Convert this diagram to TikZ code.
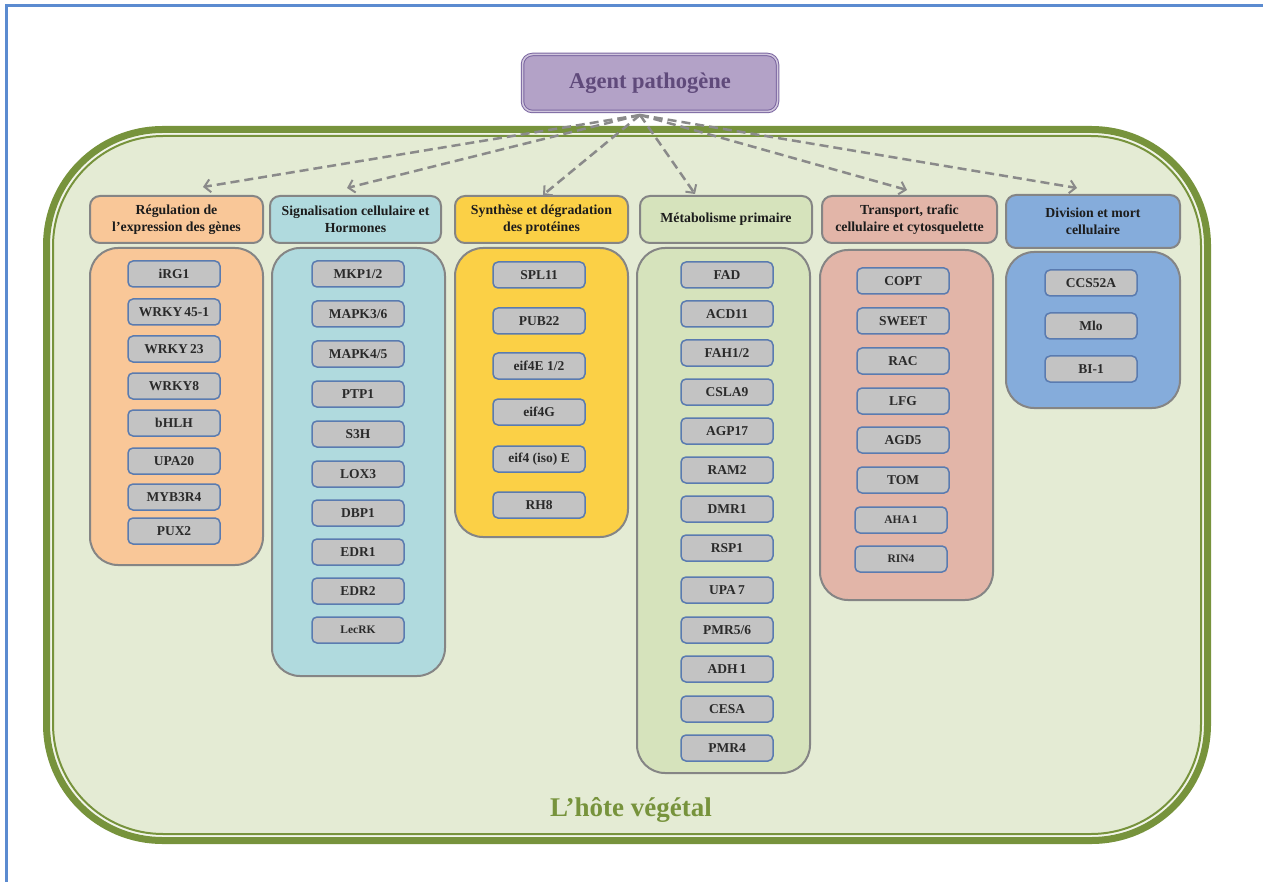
\documentclass[tikz,border=0pt]{standalone}
\usepackage{fontspec}
\setmainfont{Liberation Serif}
\usetikzlibrary{arrows.meta,calc}
\definecolor{frameblue}{HTML}{5B8BD0}
\definecolor{hostgreen}{HTML}{77933C}
\definecolor{hostfill}{HTML}{E4EBD4}
\definecolor{hostgap}{HTML}{F2F5EA}
\definecolor{agentfill}{HTML}{B3A2C7}
\definecolor{agentdraw}{HTML}{7A65A0}
\definecolor{agenttext}{HTML}{604A7B}
\definecolor{boxborder}{HTML}{858585}
\definecolor{hdrtext}{HTML}{1C1C1C}
\definecolor{cpeach}{HTML}{F9C798}
\definecolor{cteal}{HTML}{B0DADE}
\definecolor{cyellow}{HTML}{FBD046}
\definecolor{cgreen}{HTML}{D6E3BC}
\definecolor{cpink}{HTML}{E2B5A8}
\definecolor{cblue}{HTML}{85ACDB}
\definecolor{itemfill}{HTML}{C3C3C3}
\definecolor{itemborder}{HTML}{5A7BB0}
\definecolor{itemtext}{HTML}{2A2A2A}
\definecolor{arrowgrey}{HTML}{8A8A8A}
\tikzset{
  item/.style={draw=itemborder, fill=itemfill, line width=1.5pt, rounded corners=5pt,
    minimum width=92pt, minimum height=26pt, inner sep=0pt,
    font=\fontsize{13.5}{16}\selectfont\bfseries, text=itemtext},
  itemsm/.style={item, font=\fontsize{11.5}{14}\selectfont\bfseries},
  hdr/.style={draw=boxborder, line width=2pt, rounded corners=10pt, inner sep=0pt,
    align=center, font=\fontsize{13.8}{17}\selectfont\bfseries, text=hdrtext},
  bodybox/.style={draw=boxborder, line width=2pt, rounded corners=28pt, inner sep=0pt},
  arr/.style={draw=arrowgrey, line width=2.5pt, dash pattern=on 9pt off 5pt,
    -{Straight Barb[length=6pt,width=13pt,line width=2pt]}}
}
\begin{document}
\begin{tikzpicture}[x=1pt,y=-1pt]
\useasboundingbox (0,0) rectangle (1263,882);
% page frame
\draw[frameblue, line width=3pt] (6,882) -- (6,6) -- (1263,6);
% host
\draw[draw=hostgreen, fill=hostgap, line width=7pt, rounded corners=116pt] (46.5,129.5) rectangle (1207.5,840.5);
\draw[draw=hostgreen, fill=hostfill, line width=2pt, rounded corners=110pt] (53,136) rectangle (1201,834);
\node[font=\fontsize{27}{30}\selectfont\bfseries, text=hostgreen] (host) at (631,810) {L’hôte végétal};
% agent
\node[draw=agentdraw, double=agentfill!60!white, double distance=1.5pt, line width=1pt, fill=agentfill,
  rounded corners=10pt, minimum width=255pt, minimum height=57pt, inner sep=0pt,
  font=\fontsize{22.5}{26}\selectfont\bfseries, text=agenttext] (agent) at (650,83) {Agent pathogène};
% bodies
\node[bodybox, fill=cpeach, minimum width=173pt, minimum height=317pt] (b1) at (176.5,406.5) {};
\node[bodybox, fill=cteal, minimum width=173pt, minimum height=428pt] (b2) at (358.5,462) {};
\node[bodybox, fill=cyellow, minimum width=173pt, minimum height=289pt] (b3) at (541.5,392.5) {};
\node[bodybox, fill=cgreen, minimum width=173pt, minimum height=525pt] (b4) at (723.5,510.5) {};
\node[bodybox, fill=cpink, minimum width=173pt, minimum height=350pt] (b5) at (906.5,425) {};
\node[bodybox, fill=cblue, minimum width=174pt, minimum height=156pt] (b6) at (1093,330) {};
% headers
\node[hdr, fill=cpeach, minimum width=173pt, minimum height=47pt] (h1) at (176.5,219.5) {Régulation de\\l’expression des gènes};
\node[hdr, fill=cteal, minimum width=171pt, minimum height=47pt] (h2) at (355.5,219.5) {Signalisation cellulaire et\\Hormones};
\node[hdr, fill=cyellow, minimum width=173pt, minimum height=47pt] (h3) at (541.5,219.5) {Synthèse et dégradation\\des protéines};
\node[hdr, fill=cgreen, minimum width=172pt, minimum height=47pt] (h4) at (726,219.5) {Métabolisme primaire};
\node[hdr, fill=cpink, minimum width=175pt, minimum height=47pt] (h5) at (909.5,219.5) {Transport, trafic\\cellulaire et cytosquelette};
\node[hdr, fill=cblue, minimum width=174pt, minimum height=53pt] (h6) at (1093,221.5) {Division et mort\\cellulaire};
% items
\foreach \t/\y [count=\i] in {iRG1/274, WRKY\,45-1/312, WRKY\,23/349, WRKY8/386, bHLH/423, UPA20/461, MYB3R4/497, PUX2/531}
  \node[item] (a\i) at (174,\y) {\t};
\foreach \t/\y [count=\i] in {{MKP1/2}/274, {MAPK3/6}/314, {MAPK4/5}/354, PTP1/394, S3H/434, LOX3/474, DBP1/513, EDR1/552, EDR2/591}
  \node[item] (s\i) at (358,\y) {\t};
\node[itemsm] (s10) at (358,630) {LecRK};
\foreach \t/\y [count=\i] in {SPL11/275, PUB22/321, {eif4E 1/2}/366, eif4G/412, eif4 (iso) E/459, RH8/505}
  \node[item] (p\i) at (539,\y) {\t};
\foreach \t/\y [count=\i] in {FAD/275, ACD11/314, {FAH1/2}/353, CSLA9/392, AGP17/431, RAM2/470, DMR1/509, RSP1/548, UPA\,7/590, {PMR5/6}/630, ADH\,1/669, CESA/709, PMR4/748}
  \node[item] (m\i) at (727,\y) {\t};
\foreach \t/\y [count=\i] in {COPT/281, SWEET/321, RAC/361, LFG/401, AGD5/440, TOM/480}
  \node[item] (t\i) at (903,\y) {\t};
\node[itemsm] (t7) at (901,520) {AHA\,1};
\node[itemsm] (t8) at (901,559) {RIN4};
\foreach \t/\y [count=\i] in {CCS52A/283, Mlo/326, BI-1/369}
  \node[item] (d\i) at (1091,\y) {\t};
% arrows
\coordinate (src) at (640,115);
\coordinate (e1) at (203,187);
\coordinate (e2) at (347,188);
\coordinate (e3) at (543,195);
\coordinate (e4) at (695,194);
\coordinate (e5) at (907,190);
\coordinate (e6) at (1077,188);
\foreach \k in {1,...,6} \draw[arr] (src) -- (e\k);
\end{tikzpicture}
\end{document}
